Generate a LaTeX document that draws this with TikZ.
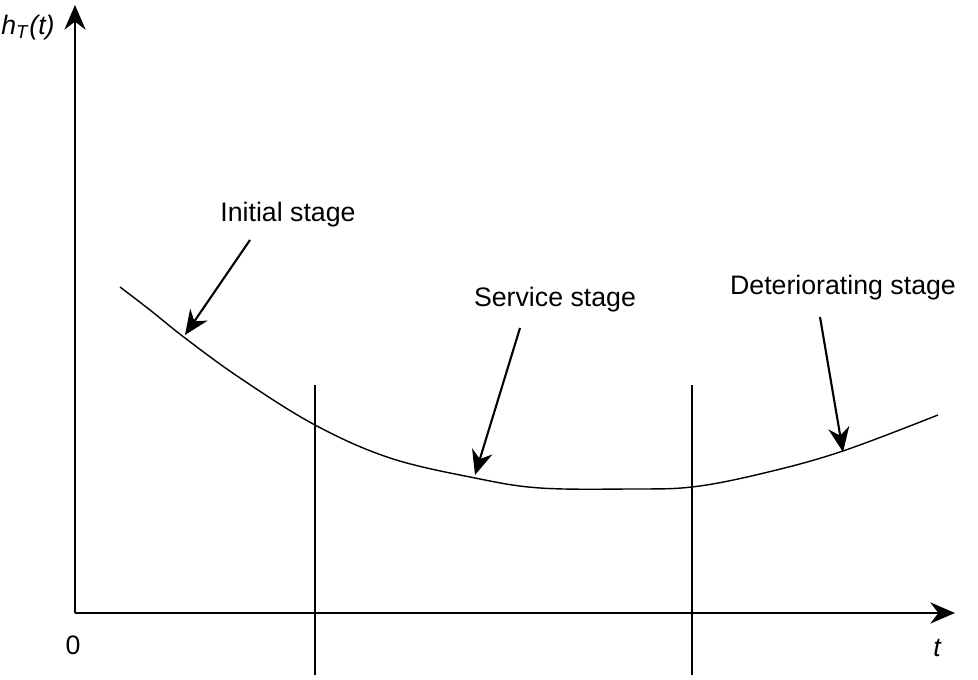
\documentclass[tikz,border=0pt]{standalone}
\usepackage{fontspec}
\setmainfont{Liberation Sans}
\usetikzlibrary{arrows.meta}
\tikzset{l/.style={font=\fontsize{7.6}{8}\selectfont}}
\tikzset{pt/.style={-{Stealth[length=7pt,width=6pt]},thick}}
\begin{document}
\begin{tikzpicture}[x=0.01cm,y=-0.01cm]
  \useasboundingbox (0,0) rectangle (978,680);
  \coordinate (O) at (75,613);
  \coordinate (Y) at (75,5);
  \coordinate (X) at (955,613);
  \draw [pt] (O) -- (Y);
  \draw [pt] (O) -- (X);
  \node [l] (zero) at (73,645) {0};
  \node [l] (tlab) at (937,648) {\itshape t};
  \node [l] (hlab) at (28,28) {\itshape h\textsubscript{T}(t)};
  % stage boundaries
  \coordinate (b1t) at (315,385); \coordinate (b1b) at (315,675);
  \coordinate (b2t) at (692,385); \coordinate (b2b) at (692,675);
  \draw (b1t) -- (b1b);
  \draw (b2t) -- (b2b);
  % hazard curve
  \draw plot [smooth, tension=0.6] coordinates {(120,287) (150,310) (185,338) (240,378) (315,425) (390,458) (475,478) (540,488) (630,489) (692,487) (760,474) (840,452) (938,415)};
  \node [l] (init) at (288,215) {Initial stage};
  \node [l] (serv) at (555,300) {Service stage};
  \node [l] (det) at (843,288) {Deteriorating stage};
  \coordinate (a1) at (185,335);
  \coordinate (a2) at (475,475);
  \coordinate (a3) at (843,452);
  \draw [pt, semithick] (250,240) -- (a1);
  \draw [pt, semithick] (520,328) -- (a2);
  \draw [pt, semithick] (820,317) -- (a3);
\end{tikzpicture}
\end{document}
